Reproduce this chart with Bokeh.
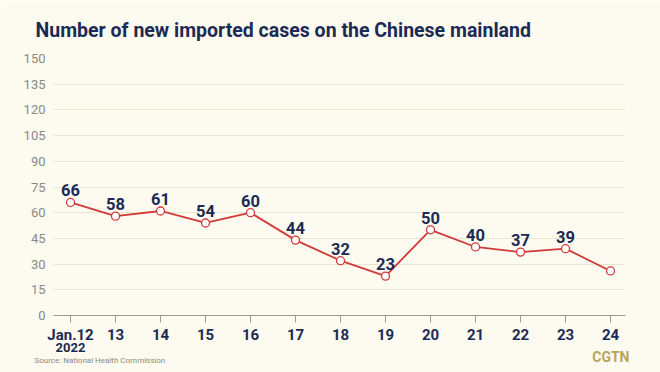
from bokeh.plotting import figure
from bokeh.models import ColumnDataSource, FixedTicker, Range1d, LinearAxis, Title
from bokeh.embed import file_html
from bokeh.resources import INLINE
from bokeh.core.properties import value

days = ["Jan.12", "13", "14", "15", "16", "17", "18", "19", "20", "21", "22", "23", "24"]
year_label = ["2022"]
cases = [66, 58, 61, 54, 60, 44, 32, 23, 50, 40, 37, 39, 26]
shown_labels = ["66", "58", "61", "54", "60", "44", "32", "23", "50", "40", "37", "39", ""]
y_ticks = [0, 15, 30, 45, 60, 75, 90, 105, 120, 135, 150]

BG = "#FDFAEF"
NAVY = "#1B2B55"
RED = "#D23A3A"
GREY = "#8A8A86"

xs = list(range(len(days)))
src = ColumnDataSource(dict(x=xs, y=cases, lab=shown_labels))

p = figure(width=660, height=372, output_backend="svg", toolbar_location=None,
           x_range=Range1d(-0.378, 12.333), y_range=Range1d(0, 150),
           min_border_left=53, min_border_right=35, min_border_top=57, min_border_bottom=57,
           background_fill_color=BG, border_fill_color=BG)
p.outline_line_color = None

xa = p.below[0]
xa.ticker = FixedTicker(ticks=xs)
xa.major_label_overrides = {i: d for i, d in enumerate(days)}
xa.axis_line_color = "#9A9A96"
xa.axis_line_width = 1.2
xa.major_tick_line_color = "#9A9A96"
xa.major_tick_out = 7
xa.major_tick_in = 0
xa.minor_tick_line_color = None
xa.major_label_standoff = 3
xa.major_label_text_color = NAVY
xa.major_label_text_font = "Roboto"
xa.major_label_text_font_style = "bold"
xa.major_label_text_font_size = "15px"

yax = p.left[0]
yax.ticker = FixedTicker(ticks=y_ticks)
yax.axis_line_color = None
yax.major_tick_line_color = None
yax.minor_tick_line_color = None
yax.major_label_standoff = 2
yax.major_label_text_color = GREY
yax.major_label_text_font = "Roboto"
yax.major_label_text_font_style = "normal"
yax.major_label_text_font_size = "13px"

p.title.text = "Number of new imported cases on the Chinese mainland"
p.title.align = "left"
p.title.offset = -18
p.title.standoff = 33
p.title.text_color = NAVY
p.title.text_font = "Roboto"
p.title.text_font_style = "bold"
p.title.text_font_size = "19.5px"

p.line("x", "y", source=src, line_color=RED, line_width=1.8)
p.scatter("x", "y", source=src, size=8, fill_color="white", line_color=RED, line_width=1.3)
p.text("x", "y", text="lab", source=src, y_offset=-6, text_align="center",
       text_baseline="bottom", text_color=NAVY, text_font=value("Roboto"),
       text_font_style="bold", text_font_size="16.5px")

p.xgrid.grid_line_color = None
p.ygrid.grid_line_color = "#EAE5D3"
p.ygrid.grid_line_width = 1.2

ya = LinearAxis(ticker=FixedTicker(ticks=[0]),
                major_label_overrides={0: year_label[0]},
                axis_line_color=None, major_tick_line_color=None, minor_tick_line_color=None,
                major_tick_out=0, major_tick_in=0, major_label_standoff=-4,
                major_label_text_color=NAVY, major_label_text_font="Roboto",
                major_label_text_font_style="bold", major_label_text_font_size="13px")
p.add_layout(ya, "below")

p.add_layout(Title(text="CGTN", align="right", offset=-4, standoff=-12, vertical_align="top",
                   text_color="#B9A65C", text_font="Roboto", text_font_style="bold",
                   text_font_size="14px"), "below")
p.add_layout(Title(text="Source: National Health Commission", align="left", offset=-19,
                   standoff=-9, vertical_align="top",
                   text_color=GREY, text_font="Roboto", text_font_style="normal",
                   text_font_size="8px"), "below")

open("out.html", "w").write(file_html(p, INLINE))
